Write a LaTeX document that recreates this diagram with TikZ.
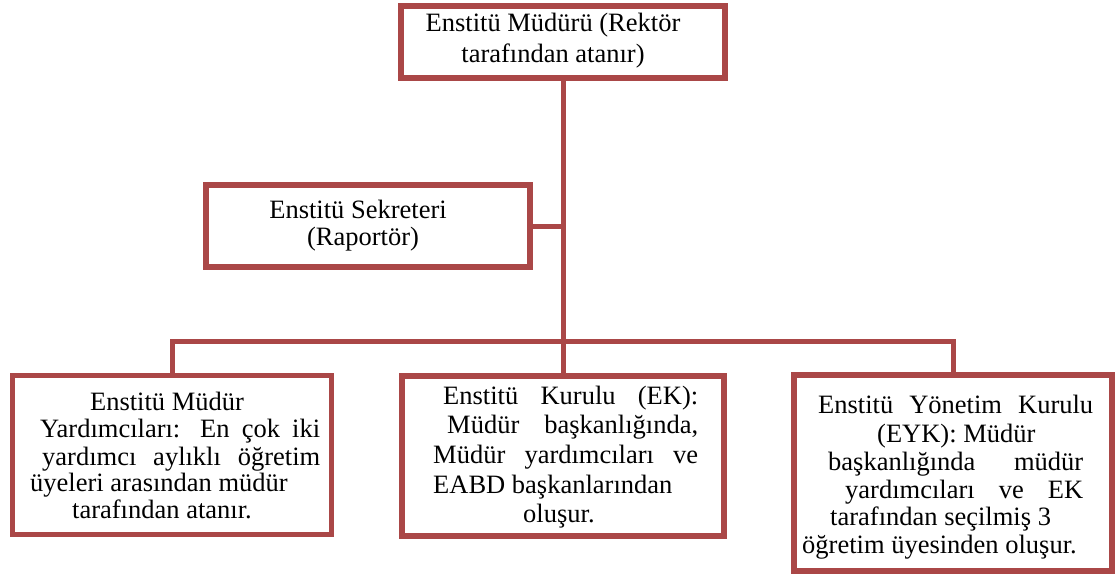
\documentclass[tikz,border=0pt]{standalone}
\usepackage{fontspec}
\setmainfont{Liberation Serif}
\definecolor{frame}{RGB}{170,71,71}
\begin{document}
\begin{tikzpicture}[x=1pt,y=-1pt,
  box/.style={draw=frame, line width=5.5pt, fill=white, inner sep=0pt, rectangle},
  link/.style={draw=frame, line width=5pt},
  txt/.style={anchor=base west, inner sep=0pt, font=\fontsize{26.5}{30}\selectfont},
  ctxt/.style={txt, anchor=base}]
\useasboundingbox (0,0) rectangle (1115,580);

% hub of the tree
\coordinate (hub) at (563,341);

% boxes
\node[box, minimum width=324pt, minimum height=72pt]  (dir) at (563,42)  {};
\node[box, minimum width=324pt, minimum height=82pt]  (sec) at (368,226) {};
\node[box, minimum width=319pt, minimum height=159pt] (lft) at (172,455) {};
\node[box, minimum width=322pt, minimum height=160pt] (mid) at (563,456) {};
\node[box, minimum width=318pt, minimum height=196pt] (rgt) at (953,473) {};

% connectors
\draw[link] (dir.south) -- (hub) -- (mid.north);
\draw[link] (sec.east) -- (sec.east -| hub);
\draw[link] (lft.north) |- (hub) -| (rgt.north);

% director
\node[ctxt] (t1) at (553,32) {Enstitü Müdürü (Rektör};
\node[ctxt] (t2) at (553,63) {tarafından atanır)};

% secretary
\node[ctxt] (s1) at (358,218) {Enstitü Sekreteri};
\node[ctxt] (s2) at (363,245) {(Raportör)};

% vice directors
\node[ctxt] (a1) at (167,410) {Enstitü Müdür};
\node[txt]  (a2) at (40,437)  {\makebox[280pt][s]{Yardımcıları: En çok iki}};
\node[txt]  (a3) at (42,465)  {\makebox[278pt][s]{yardımcı aylıklı öğretim}};
\node[txt]  (a4) at (30,491)  {üyeleri arasından müdür};
\node[txt]  (a5) at (72,518)  {tarafından atanır.};

% institute board
\node[txt] (b1) at (443,404) {\makebox[255pt][s]{Enstitü Kurulu (EK):}};
\node[txt] (b2) at (447,433) {\makebox[251pt][s]{Müdür başkanlığında,}};
\node[txt] (b3) at (433,463) {\makebox[265pt][s]{Müdür yardımcıları ve}};
\node[txt] (b4) at (433,493) {EABD başkanlarından};
\node[txt] (b5) at (523,522) {oluşur.};

% executive board
\node[txt] (c1) at (818,413) {\makebox[275pt][s]{Enstitü Yönetim Kurulu}};
\node[txt] (c2) at (877,442) {(EYK): Müdür};
\node[txt] (c3) at (828,470) {\makebox[255pt][s]{başkanlığında müdür}};
\node[txt] (c4) at (845,498) {\makebox[238pt][s]{yardımcıları ve EK}};
\node[txt] (c5) at (830,525) {tarafından seçilmiş 3};
\node[txt] (c6) at (802,553) {öğretim üyesinden oluşur.};
\end{tikzpicture}
\end{document}
